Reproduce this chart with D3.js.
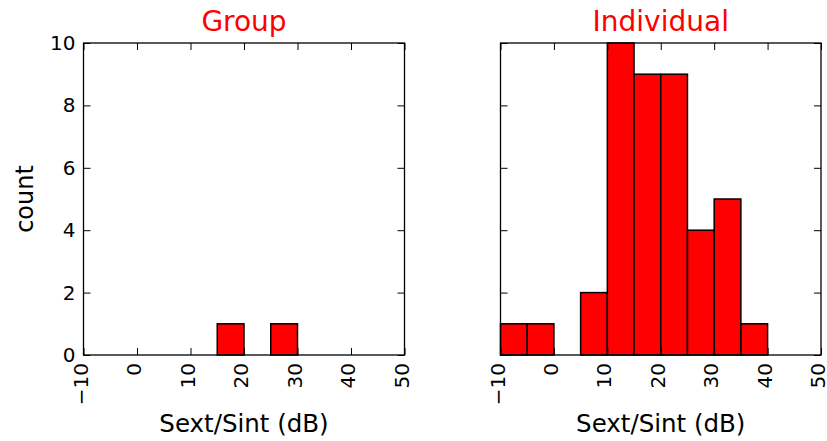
<!DOCTYPE html>
<html>
<head>
<meta charset="utf-8">
<script src="https://cdn.jsdelivr.net/npm/d3@7"></script>
<style>
  body { margin: 0; background: #fff; }
  svg { display: block; font-family: "DejaVu Sans", sans-serif; }
</style>
</head>
<body>
<svg id="chart" width="827" height="441"></svg>
<script>
// ---- data ----
const binWidth = 5;
const groupBinStarts = [-10, 15, 25];
const groupCounts = [0, 1, 1];
const indivBinStarts = [-10, -5, 0, 5, 10, 15, 20, 25, 30, 35];
const indivCounts = [1, 1, 0, 2, 10, 9, 9, 4, 5, 1];
const xTicks = [-10, 0, 10, 20, 30, 40, 50];
const yTicks = [0, 2, 4, 6, 8, 10];
const titles = ["Group", "Individual"];
const xLabel = "Sext/Sint (dB)";
const yLabel = "count";

(function () {
const svg = d3.select("#chart");
const plotTop = 43, plotBottom = 355;
const panels = [
  { x0: 83.5, x1: 404.5, starts: groupBinStarts, counts: groupCounts, title: titles[0], yLabels: true },
  { x0: 500.5, x1: 821, starts: indivBinStarts, counts: indivCounts, title: titles[1], yLabels: false }
];
const tickLen = 7;

panels.forEach(p => {
  const x = d3.scaleLinear().domain([-10, 50]).range([p.x0, p.x1]);
  const y = d3.scaleLinear().domain([0, 10]).range([plotBottom, plotTop]);
  const g = svg.append("g");

  const data = p.starts.map((s, i) => ({ x0: s, x1: s + binWidth, c: p.counts[i] }));
  g.selectAll("rect.bar").data(data).enter().append("rect")
    .attr("class", "bar")
    .attr("x", d => x(d.x0))
    .attr("width", d => x(d.x1) - x(d.x0))
    .attr("y", d => y(d.c))
    .attr("height", d => y(0) - y(d.c))
    .attr("fill", "#ff0000")
    .attr("stroke", "#000")
    .attr("stroke-width", d => d.c === 0 ? 2.2 : 1.5);

  // frame
  g.append("rect")
    .attr("x", p.x0).attr("y", plotTop)
    .attr("width", p.x1 - p.x0).attr("height", plotBottom - plotTop)
    .attr("fill", "none").attr("stroke", "#000").attr("stroke-width", 1.3);

  // bottom axis with labels
  const xb = g.append("g").attr("transform", `translate(0,${plotBottom})`)
    .call(d3.axisBottom(x).tickValues(xTicks).tickSizeInner(-tickLen).tickSizeOuter(0).tickFormat(d3.format("d")));
  xb.select(".domain").remove();
  xb.selectAll("line").attr("stroke", "#000").attr("stroke-width", 1);
  xb.selectAll("text")
    .attr("x", 0).attr("y", 0).attr("dy", "0.18em")
    .attr("transform", "translate(0,8) rotate(-90)")
    .attr("text-anchor", "end")
    .attr("font-size", 20).attr("fill", "#000")
    .attr("font-family", "DejaVu Sans");

  // top ticks
  const xt = g.append("g").attr("transform", `translate(0,${plotTop})`)
    .call(d3.axisTop(x).tickValues(xTicks).tickSizeInner(-tickLen).tickSizeOuter(0).tickFormat(""));
  xt.select(".domain").remove();
  xt.selectAll("line").attr("stroke", "#000");

  // left axis
  const yl = g.append("g").attr("transform", `translate(${p.x0},0)`)
    .call(d3.axisLeft(y).tickValues(yTicks).tickSizeInner(-tickLen).tickSizeOuter(0)
      .tickPadding(8).tickFormat(p.yLabels ? d3.format("d") : ""));
  yl.select(".domain").remove();
  yl.selectAll("line").attr("stroke", "#000");
  yl.selectAll("text").attr("font-size", 20).attr("fill", "#000").attr("font-family", "DejaVu Sans");

  // right ticks
  const yr = g.append("g").attr("transform", `translate(${p.x1},0)`)
    .call(d3.axisRight(y).tickValues(yTicks).tickSizeInner(-tickLen).tickSizeOuter(0).tickFormat(""));
  yr.select(".domain").remove();
  yr.selectAll("line").attr("stroke", "#000");

  // title
  g.append("text")
    .attr("x", (p.x0 + p.x1) / 2).attr("y", 31)
    .attr("text-anchor", "middle").attr("font-size", 28).attr("fill", "#ff0000")
    .text(p.title);

  // x label
  g.append("text")
    .attr("x", (p.x0 + p.x1) / 2).attr("y", 432)
    .attr("text-anchor", "middle").attr("font-size", 24.5).attr("fill", "#000")
    .text(xLabel);
});

// y label
svg.append("text")
  .attr("transform", `translate(33,${(plotTop + plotBottom) / 2}) rotate(-90)`)
  .attr("text-anchor", "middle").attr("font-size", 24).attr("fill", "#000")
  .text(yLabel);
})();
</script>
</body>
</html>
